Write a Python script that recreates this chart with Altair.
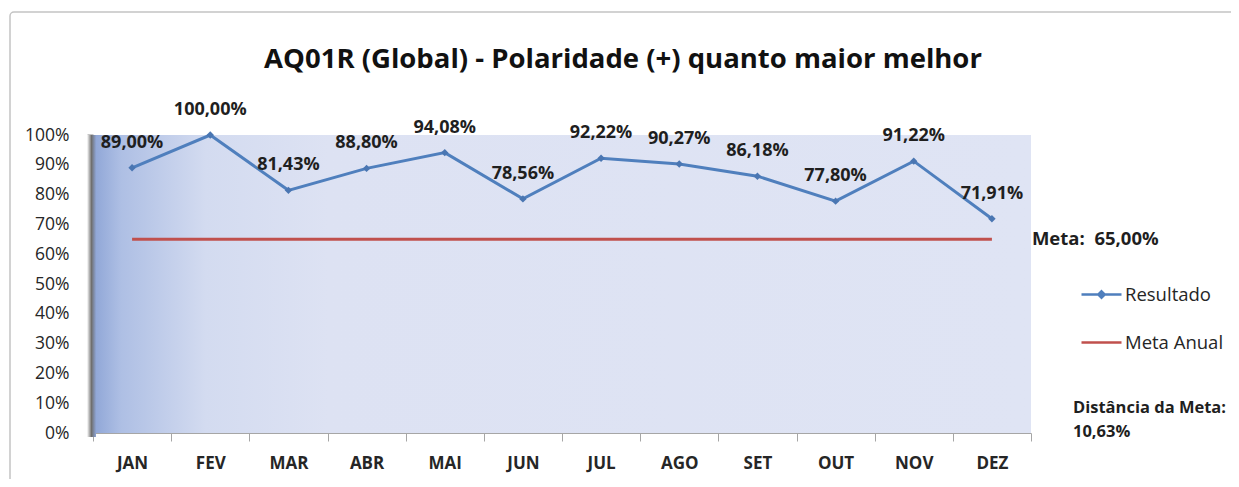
import altair as alt
import pandas as pd

# ---- data ----
meses = ["JAN", "FEV", "MAR", "ABR", "MAI", "JUN", "JUL", "AGO", "SET", "OUT", "NOV", "DEZ"]
resultado = [0.8900, 1.0000, 0.8143, 0.8880, 0.9408, 0.7856, 0.9222, 0.9027, 0.8618, 0.7780, 0.9122, 0.7191]
rotulos = ["89,00%", "100,00%", "81,43%", "88,80%", "94,08%", "78,56%", "92,22%", "90,27%",
           "86,18%", "77,80%", "91,22%", "71,91%"]
meta_anual = [0.65, 0.65, 0.65, 0.65, 0.65, 0.65, 0.65, 0.65, 0.65, 0.65, 0.65, 0.65]
y_ticks = [0.0, 0.1, 0.2, 0.3, 0.4, 0.5, 0.6, 0.7, 0.8, 0.9, 1.0]
series = ["Resultado", "Meta Anual"]
titulo = "AQ01R (Global) - Polaridade (+) quanto maior melhor"
meta_texto = "Meta:\u00a0 65,00%"
distancia_texto = ["Distância da Meta:", "10,63%"]

# ---- styling ----
FONT = "Open Sans"
BLUE = "#4f7fbd"
RED = "#c0504d"
W, H = 938, 298

df_res = pd.DataFrame({"mes": meses, "valor": resultado, "rotulo": rotulos})
df_meta = pd.DataFrame({"mes": meses, "valor": meta_anual})
df_leg = pd.DataFrame({"mes": ["JAN", "JAN"], "valor": [0.65, 0.65], "serie": series})
df_meta_txt = pd.DataFrame({"mes": ["DEZ"], "valor": [meta_anual[-1]], "t": [meta_texto]})
one = pd.DataFrame({"a": [0]})

x_enc = alt.X(
    "mes:N",
    sort=meses,
    scale=alt.Scale(domain=meses, paddingInner=0, paddingOuter=0),
    axis=alt.Axis(
        title=None, labelAngle=0, labelFont=FONT, labelFontSize=17, labelFontWeight="bold",
        labelColor="#262626", tickBand="extent", tickSize=8, tickColor="#a6a6a6",
        domainColor="#a6a6a6", labelPadding=14, grid=False,
    ),
)
y_enc = alt.Y(
    "valor:Q",
    scale=alt.Scale(domain=[0, 1], nice=False, zero=True),
    axis=alt.Axis(
        title=None, values=y_ticks, format=".0%", labelFont=FONT, labelFontSize=17.5,
        labelColor="#262626", tickSize=6, tickWidth=2, tickColor="#8c8c8c",
        domainColor="#8c8c8c", domainWidth=3, labelPadding=18, grid=False,
    ),
)

frame = alt.Chart(one).mark_rect(
    fill="transparent", stroke="#c4c4c4", strokeWidth=1.5, cornerRadius=4
).encode(x=alt.value(-83), x2=alt.value(1300), y=alt.value(-123), y2=alt.value(420))

bg = alt.Chart(one).mark_rect(
    color=alt.Gradient(
        gradient="linear", x1=0, x2=1, y1=0, y2=0,
        stops=[
            alt.GradientStop(offset=0.0, color="#8ea5d6"),
            alt.GradientStop(offset=0.03, color="#aebfe4"),
            alt.GradientStop(offset=0.12, color="#d3dbf0"),
            alt.GradientStop(offset=0.25, color="#dde2f3"),
            alt.GradientStop(offset=1.0, color="#dfe4f4"),
        ],
    )
).encode(x=alt.value(0), x2=alt.value(W), y=alt.value(0), y2=alt.value(H))

strip = alt.Chart(one).mark_rect(
    color=alt.Gradient(
        gradient="linear", x1=0, x2=1, y1=0, y2=0,
        stops=[
            alt.GradientStop(offset=0.0, color="#ffffff"),
            alt.GradientStop(offset=0.5, color="#6f6f6f"),
            alt.GradientStop(offset=1.0, color="#8ea5d6"),
        ],
    )
).encode(x=alt.value(-6), x2=alt.value(3), y=alt.value(0), y2=alt.value(H + 4))

meta_line = alt.Chart(df_meta).mark_line(color=RED, strokeWidth=3).encode(x=x_enc, y=y_enc)

res_line = alt.Chart(df_res).mark_line(color=BLUE, strokeWidth=3).encode(x=x_enc, y=y_enc)

res_pts = alt.Chart(df_res).mark_point(
    shape="diamond", filled=True, color="#4a76b2", size=55, opacity=1
).encode(x=x_enc, y=y_enc)

res_lbl = alt.Chart(df_res).mark_text(
    font=FONT, fontSize=18, fontWeight="bold", color="#1f1f1f", dy=-25, baseline="middle"
).encode(x=x_enc, y=y_enc, text="rotulo:N")

meta_txt = alt.Chart(df_meta_txt).mark_text(
    font=FONT, fontSize=18.5, fontWeight="bold", color="#1f1f1f", align="left",
    baseline="middle", dx=40,
).encode(x=x_enc, y=y_enc, text="t:N")

dist_df = pd.DataFrame({"t": distancia_texto, "i": [0, 1]})
dist_txt1 = alt.Chart(dist_df.iloc[[0]]).mark_text(
    font=FONT, fontSize=16.5, fontWeight="bold", color="#1f1f1f", align="left", baseline="middle"
).encode(x=alt.value(980), y=alt.value(273), text="t:N")
dist_txt2 = alt.Chart(dist_df.iloc[[1]]).mark_text(
    font=FONT, fontSize=16.5, fontWeight="bold", color="#1f1f1f", align="left", baseline="middle"
).encode(x=alt.value(980), y=alt.value(297), text="t:N")

title_txt = alt.Chart(pd.DataFrame({"t": [titulo]})).mark_text(
    font=FONT, fontSize=27.5, fontWeight="bold", color="#111111", align="center", baseline="middle"
).encode(x=alt.value(530), y=alt.value(-75), text="t:N")

leg_params = dict(
    orient="none", legendX=987, legendY=138, title=None, symbolSize=1600,
    symbolStrokeWidth=2.5, symbolOpacity=1, labelFont=FONT, labelFontSize=18.5,
    labelColor="#262626", rowPadding=17, labelOffset=2, padding=0,
)
legend_layer = alt.Chart(df_leg).mark_point(opacity=0, filled=False, strokeWidth=2.5).encode(
    x=x_enc,
    y=y_enc,
    color=alt.Color("serie:N", scale=alt.Scale(domain=series, range=[BLUE, RED]),
                    legend=alt.Legend(**leg_params)),
    shape=alt.Shape("serie:N", scale=alt.Scale(
        domain=series,
        range=["M-1,0L1,0M0,-0.16L0.16,0L0,0.16L-0.16,0Z", "M-1,0L1,0"]),
        legend=alt.Legend(**leg_params)),
)

chart = alt.layer(
    frame, bg, strip, meta_line, res_line, res_pts, res_lbl, meta_txt,
    dist_txt1, dist_txt2, title_txt, legend_layer,
).properties(
    width=W, height=H,
    autosize=alt.AutoSizeParams(type="none"),
    padding={"left": 85, "top": 127, "right": 200, "bottom": 46},
    background="white",
).configure_view(strokeWidth=0)

chart.save("out.html", embed_options={"renderer": "svg", "actions": False})
